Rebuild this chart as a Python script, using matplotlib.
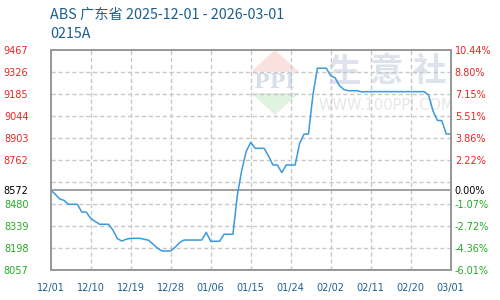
import numpy as np
import pandas as pd
import matplotlib
matplotlib.use('Agg')
import matplotlib.pyplot as plt
from matplotlib.patches import Polygon

# daily price, 2025-12-01 .. 2026-03-01
dates = pd.date_range('2025-12-01', '2026-03-01', freq='D')
prices = [8572, 8545, 8515, 8505, 8480, 8480, 8480, 8430, 8430, 8390,
          8370, 8352, 8352, 8352, 8315, 8260, 8245, 8256, 8262, 8262,
          8262, 8256, 8250, 8225, 8200, 8181, 8181, 8181, 8205, 8235,
          8251, 8251, 8251, 8251, 8251, 8300, 8243, 8243, 8243, 8288,
          8288, 8288, 8540, 8700, 8820, 8877, 8839, 8839, 8839, 8790,
          8732, 8732, 8683, 8732, 8732, 8732, 8870, 8930, 8930, 9180,
          9352, 9352, 9352, 9304, 9290, 9240, 9215, 9208, 9208, 9208,
          9200, 9202, 9202, 9202, 9202, 9202, 9202, 9202, 9202, 9202,
          9202, 9202, 9202, 9202, 9202, 9181, 9080, 9018, 9016, 8931,
          8931]

base = 8572
ytop, ybottom, ystep = 9467, 8057, 141
left_labels = ['9467', '9326', '9185', '9044', '8903', '8762', '8572',
               '8480', '8339', '8198', '8057']
right_labels = ['10.44%', '8.80%', '7.15%', '5.51%', '3.86%', '2.22%', '0.00%',
                '-1.07%', '-2.72%', '-4.36%', '-6.01%']
xtick_labels = ['12/01', '12/10', '12/19', '12/28', '01/06', '01/15',
                '01/24', '02/02', '02/11', '02/20', '03/01']

title = 'ABS 广东省 2025-12-01 - 2026-03-01'
subtitle = '0215A'

blue_txt = '#1d5e8e'
red = '#ee2222'
green = '#22aa22'
gray = '#999999'
gridc = '#c8c8c8'

W, H = 500, 300
def fx(x):
    return x / W
def fy(y):
    return 1 - y / H

fig = plt.figure(figsize=(5, 3), dpi=100)
ax = fig.add_axes([fx(50.7), fy(270.3), fx(400), 220 / H])

# watermark
wm_kw = dict(transform=fig.transFigure, zorder=0.5)
ax.add_patch(Polygon([(fx(251), fy(71.7)), (fx(299), fy(71.7)), (fx(275), fy(50))],
                     closed=True, fc='#fbe0e0', ec='none', **wm_kw))
ax.add_patch(Polygon([(fx(251), fy(93)), (fx(299), fy(93)), (fx(275), fy(115))],
                     closed=True, fc='#e0f2e0', ec='none', **wm_kw))
ax.text(fx(275), fy(82), 'PPI', ha='center', va='center', fontsize=15,
        fontweight='bold', family='DejaVu Serif', color='#d6deeb', **wm_kw)
for cx, ch in zip([345, 386, 429], '生意社'):
    ax.text(fx(cx), fy(72), ch, ha='center', va='center', fontsize=24,
            family='Noto Sans CJK SC', fontweight='bold', color='#dde2ec', **wm_kw)
ax.text(fx(386), fy(106), 'WWW.100PPI.COM', ha='center', va='center',
        fontsize=10.5, color='#e6e6e6', **wm_kw)

# grid
levels = [ytop - k * ystep for k in range(11)]
for lv in levels[1:-1]:
    ax.axhline(lv, color=gridc, lw=1, ls=(0, (3, 2)), zorder=1)
for d in dates[9:-1:9]:
    ax.axvline(d, color=gridc, lw=1, ls=(0, (3, 2)), zorder=1)
ax.axhline(base, color=gray, lw=1.3, zorder=2)

ax.plot(dates, prices, color='#3a9ade', lw=1.1, zorder=3)

ax.set_xlim(dates[0], dates[-1])
ax.set_ylim(ybottom, ytop)

yt = levels[:6] + [base] + levels[7:]
ax.set_yticks(yt)
ax.set_yticklabels(left_labels, fontsize=7)
ax.tick_params(axis='y', length=0, pad=16)
for lab, v in zip(ax.get_yticklabels(), yt):
    lab.set_color(red if v > base else ('black' if v == base else green))

ax.set_xticks(dates[::9])
ax.set_xticklabels(xtick_labels, fontsize=7, color=blue_txt)
ax.tick_params(axis='x', length=0, pad=9)

ax2 = ax.twinx()
ax2.set_ylim(ybottom, ytop)
ax2.set_yticks(yt)
ax2.set_yticklabels(right_labels, fontsize=7)
ax2.tick_params(axis='y', length=0, pad=3)
for lab, v in zip(ax2.get_yticklabels(), yt):
    lab.set_color(red if v > base else ('black' if v == base else green))

for a in (ax, ax2):
    for s in a.spines.values():
        s.set_color(gray)
        s.set_linewidth(1.3)

fig.text(fx(50), fy(15), title, ha='left', va='center', fontsize=10.3,
         family=['Noto Sans CJK SC', 'DejaVu Sans'], color=blue_txt)
fig.text(fx(50), fy(34), subtitle, ha='left', va='center', fontsize=10.3,
         family=['Noto Sans CJK SC', 'DejaVu Sans'], color=blue_txt)

fig.savefig('out.png', dpi=100)
